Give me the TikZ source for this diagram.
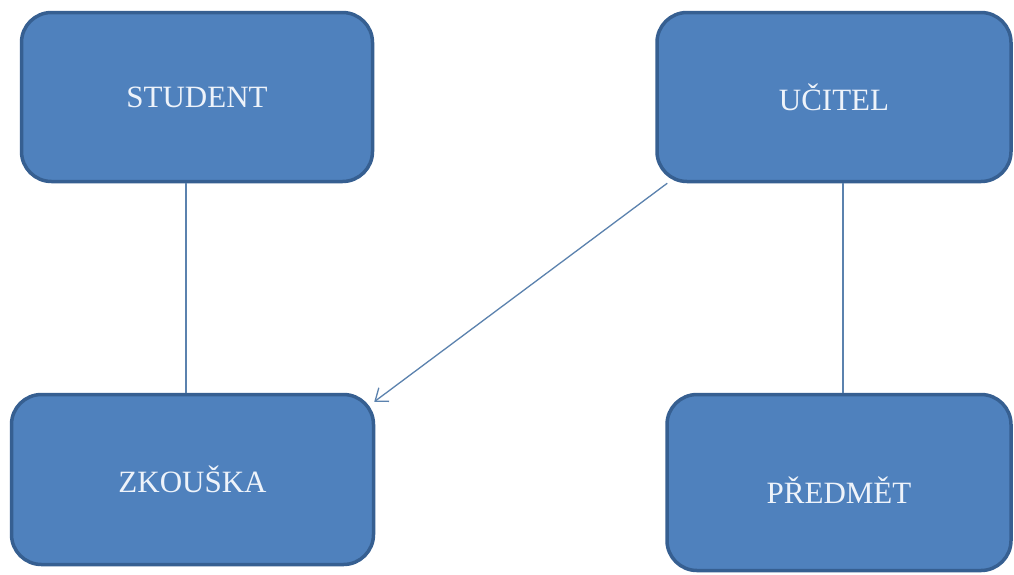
\documentclass[tikz,border=0pt]{standalone}
\usepackage{fontspec}
\setmainfont{Liberation Serif}
\usetikzlibrary{arrows.meta}
\definecolor{boxfill}{HTML}{4F81BD}
\definecolor{boxline}{HTML}{365F91}
\definecolor{conn}{HTML}{5B82AE}
\definecolor{boxtext}{HTML}{EEF3FA}
\tikzset{
  entity/.style={draw=boxline, fill=boxfill, line width=3.5pt, rounded corners=30pt,
    text=boxtext, font=\fontsize{31}{36}\selectfont, inner sep=0pt},
  link/.style={draw=conn, line width=1.3pt},
  arrowlink/.style={link, -{Straight Barb[length=11pt,width=17pt,line width=1.3pt]}},
  lbl/.style={text=boxtext, font=\fontsize{31}{36}\selectfont, inner sep=0pt}
}
\begin{document}
\begin{tikzpicture}[x=1pt,y=-1pt]
\useasboundingbox[fill=white] (0,0) rectangle (1014,574);
\node[entity, minimum width=351pt, minimum height=169pt] (student) at (197,97) {STUDENT};
\node[entity, minimum width=354pt, minimum height=169pt] (ucitel) at (834,97) {UČITEL};
\node[entity, minimum width=362pt, minimum height=170pt] (zkouska) at (192.5,479.5) {ZKOUŠKA};
\node[entity, minimum width=344pt, minimum height=176pt,
  label={[lbl, yshift=-8pt]center:PŘEDMĚT}] (predmet) at (839,482.5) {};
\coordinate (xa) at (186,0);
\coordinate (xb) at (843,0);
\draw[link] (student.south -| xa) -- (zkouska.north -| xa);
\draw[link] (ucitel.south -| xb) -- (predmet.north -| xb);
\coordinate (astart) at ([shift={(12,0)}]ucitel.south west);
\coordinate (aend) at ([shift={(-1,9)}]zkouska.north east);
\draw[arrowlink] (astart) -- (aend);
\end{tikzpicture}
\end{document}
